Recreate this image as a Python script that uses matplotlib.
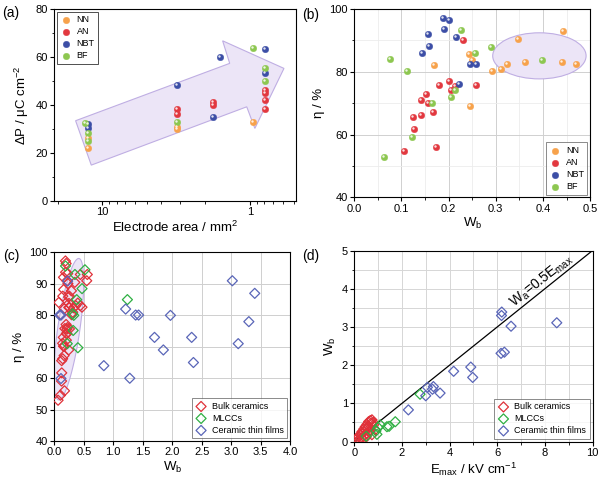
import matplotlib
matplotlib.use('Agg')
import matplotlib.pyplot as plt
import numpy as np
from matplotlib.patches import Polygon, Ellipse
from matplotlib.transforms import offset_copy
from matplotlib.ticker import MultipleLocator, FixedLocator, NullFormatter

plt.rcParams['font.family'] = ['Liberation Sans', 'DejaVu Sans']
plt.rcParams['mathtext.default'] = 'regular'

# (a) delta P vs electrode area
a_nn_x = [12.6, 12.6, 3.14, 3.14, 0.95]
a_nn_y = [26.5, 22.1, 31.0, 30.1, 33.0]
a_an_x = [3.14, 3.14, 1.77, 1.77, 0.785, 0.785, 0.785, 0.785]
a_an_y = [38.3, 36.1, 41.4, 40.1, 46.5, 45.1, 42.1, 38.2]
a_nbt_x = [12.6, 12.6, 3.14, 1.77, 1.6, 0.785, 0.785]
a_nbt_y = [32.2, 30.3, 48.2, 35.1, 60.1, 63.2, 53.5]
a_bf_x = [13.2, 12.6, 12.6, 3.14, 0.95, 0.785, 0.785]
a_bf_y = [32.6, 28.2, 25.1, 33.0, 63.9, 55.3, 50.1]

# (b) efficiency vs Wb
b_nn_w = [0.243, 0.249, 0.169, 0.245, 0.293, 0.312, 0.323, 0.348, 0.363, 0.442, 0.441, 0.470]
b_nn_eta = [85.8, 83.8, 82.1, 69.0, 80.2, 81.0, 82.4, 90.5, 83.1, 93.0, 83.1, 82.6]
b_an_w = [0.231, 0.200, 0.179, 0.214, 0.204, 0.257, 0.152, 0.141, 0.156, 0.125, 0.142, 0.166, 0.126, 0.105, 0.173]
b_an_eta = [90.1, 77.1, 75.8, 75.6, 74.2, 75.7, 73.0, 71.1, 70.2, 65.6, 66.2, 67.2, 61.7, 54.6, 56.0]
b_nbt_w = [0.189, 0.201, 0.191, 0.215, 0.156, 0.159, 0.144, 0.245, 0.259, 0.223]
b_nbt_eta = [97.3, 96.5, 93.7, 91.0, 92.1, 88.2, 86.1, 82.5, 82.5, 76.1]
b_bf_w = [0.227, 0.256, 0.290, 0.398, 0.076, 0.112, 0.214, 0.204, 0.164, 0.123, 0.064]
b_bf_eta = [93.3, 86.1, 87.8, 83.9, 84.1, 80.2, 74.2, 72.1, 70.1, 59.1, 53.0]

# (c) efficiency vs Wb by device type
c_bulk_w = b_nn_w + b_an_w + b_nbt_w + b_bf_w + [0.56, 0.55]
c_bulk_eta = b_nn_eta + b_an_eta + b_nbt_eta + b_bf_eta + [93.0, 91.0]
c_mlcc_w = [0.19, 0.52, 0.35, 0.47, 0.38, 0.31, 0.33, 0.32, 0.22, 0.40, 1.24]
c_mlcc_eta = [95.7, 94.5, 93.0, 88.5, 85.0, 80.5, 80.0, 75.2, 71.0, 69.7, 85.0]
c_film_w = [0.09, 0.113, 0.113, 0.226, 0.84, 1.21, 1.28, 1.38, 1.43, 1.70, 1.85, 1.97, 2.33, 2.36, 3.02, 3.12, 3.30, 3.40]
c_film_eta = [80.1, 80.1, 59.9, 90.9, 64.0, 82.0, 60.0, 80.1, 80.1, 73.0, 69.0, 80.0, 73.0, 65.0, 91.0, 71.0, 78.0, 87.0]

# (d) Wb vs Emax
d_bulk_e = [0.04, 0.10, 0.18, 0.25, 0.32, 0.40, 0.46, 0.53, 0.60, 0.67, 0.74, 0.81, 0.88, 0.39, 0.53,
            0.67, 0.74, 0.60, 0.46, 0.32, 0.22, 0.55, 0.70, 0.80, 0.64, 0.50, 0.36, 0.28, 0.15]
d_bulk_w = [0.04, 0.08, 0.13, 0.19, 0.26, 0.33, 0.39, 0.45, 0.52, 0.55, 0.57, 0.44, 0.31, 0.13, 0.22,
            0.31, 0.18, 0.40, 0.30, 0.20, 0.05, 0.35, 0.48, 0.50, 0.25, 0.12, 0.05, 0.10, 0.02]
d_mlcc_e = [0.50, 0.91, 0.95, 1.00, 1.09, 1.37, 1.46, 1.72, 2.76]
d_mlcc_w = [0.14, 0.28, 0.19, 0.37, 0.44, 0.39, 0.40, 0.52, 1.24]
d_film_e = [2.27, 3.00, 3.07, 3.28, 3.32, 3.60, 4.17, 4.89, 4.97, 6.16, 6.30, 6.19, 6.18, 6.58, 8.50]
d_film_w = [0.83, 1.20, 1.42, 1.37, 1.44, 1.27, 1.84, 1.95, 1.68, 2.31, 2.34, 3.39, 3.30, 3.02, 3.11]

# arrow outline for (a)
arrow_x = [15.2, 1.37, 1.53, 0.587, 0.925, 1.05, 11.9]
arrow_y = [33.5, 57.4, 66.8, 55.3, 30.3, 39.3, 15.0]

sphere_colors = {'NN': '#f7a24b', 'AN': '#e2383f', 'NBT': '#3c4ea6', 'BF': '#8dc750'}
red_d, green_d, blue_d = '#e0323a', '#2fb043', '#5a66b8'
shade_face = '#ece5f7'
shade_edge = '#bfaee3'

fig = plt.figure(figsize=(6, 4.8), dpi=100)
ax_a = fig.add_axes([0.090, 0.581, 0.403, 0.400])
ax_b = fig.add_axes([0.5905, 0.589, 0.393, 0.392])
ax_c = fig.add_axes([0.0905, 0.081, 0.393, 0.393])
ax_d = fig.add_axes([0.5905, 0.080, 0.397, 0.398])


def spheres(ax, x, y, color, label):
    ax.scatter(x, y, s=22, c=color, edgecolors=color, linewidths=0.3, label=label, zorder=3)
    tr = offset_copy(ax.transData, fig=fig, x=-1.0, y=1.0, units='dots')
    ax.scatter(x, y, s=3, c='white', alpha=0.85, linewidths=0, transform=tr, zorder=4)


def diamonds(ax, x, y, color, label):
    ax.scatter(x, y, s=26, marker='D', facecolors='none', edgecolors=color, linewidths=0.9,
               label=label, zorder=3)


def style(ax):
    ax.tick_params(axis='both', which='major', direction='out', length=3, labelsize=8,
                   width=0.8, pad=1.5)
    ax.tick_params(axis='both', which='minor', direction='out', length=1.8, width=0.6)
    for s in ax.spines.values():
        s.set_linewidth(0.8)


def small_legend(ax, loc, edge):
    leg = ax.legend(loc=loc, fontsize=6.5, frameon=True, fancybox=False, edgecolor=edge,
                    handletextpad=0.6, borderpad=0.4, labelspacing=0.33, handlelength=1.2,
                    borderaxespad=0.3, scatterpoints=1)
    leg.get_frame().set_linewidth(0.6)


# ---- (a)
ax_a.add_patch(Polygon(list(zip(arrow_x, arrow_y)), closed=True, facecolor=shade_face,
                       edgecolor=shade_edge, linewidth=0.8, zorder=1))
spheres(ax_a, a_nn_x, a_nn_y, sphere_colors['NN'], 'NN')
spheres(ax_a, a_an_x, a_an_y, sphere_colors['AN'], 'AN')
spheres(ax_a, a_nbt_x, a_nbt_y, sphere_colors['NBT'], 'NBT')
spheres(ax_a, a_bf_x, a_bf_y, sphere_colors['BF'], 'BF')
ax_a.set_xscale('log')
ax_a.set_xlim(21.3, 0.488)
ax_a.set_ylim(0, 80)
ax_a.xaxis.set_major_locator(FixedLocator([10, 1]))
ax_a.set_xticklabels(['10', '1'])
ax_a.xaxis.set_minor_formatter(NullFormatter())
ax_a.yaxis.set_major_locator(MultipleLocator(20))
ax_a.yaxis.set_minor_locator(MultipleLocator(10))
ax_a.set_xlabel('Electrode area / mm$^2$', fontsize=9.5, labelpad=2)
ax_a.set_ylabel('ΔP / μC cm$^{-2}$', fontsize=9.5, labelpad=3)
style(ax_a)
small_legend(ax_a, 'upper left', 'black')

# ---- (b)
ax_b.add_patch(Ellipse((0.3925, 85.1), 0.198, 14.7, facecolor=shade_face, edgecolor=shade_edge,
                       linewidth=0.8, zorder=1))
spheres(ax_b, b_nn_w, b_nn_eta, sphere_colors['NN'], 'NN')
spheres(ax_b, b_an_w, b_an_eta, sphere_colors['AN'], 'AN')
spheres(ax_b, b_nbt_w, b_nbt_eta, sphere_colors['NBT'], 'NBT')
spheres(ax_b, b_bf_w, b_bf_eta, sphere_colors['BF'], 'BF')
ax_b.set_xlim(0, 0.5)
ax_b.set_ylim(40, 100)
ax_b.xaxis.set_major_locator(MultipleLocator(0.1))
ax_b.xaxis.set_minor_locator(MultipleLocator(0.05))
ax_b.yaxis.set_major_locator(MultipleLocator(20))
ax_b.yaxis.set_minor_locator(MultipleLocator(10))
ax_b.grid(True, which='major', color='#d0d0d0', linewidth=0.7, zorder=0)
ax_b.grid(True, which='minor', color='#ececec', linewidth=0.6, zorder=0)
ax_b.set_axisbelow(True)
ax_b.set_xlabel('W$_b$', fontsize=9.5, labelpad=2)
ax_b.set_ylabel('η / %', fontsize=9.5, labelpad=3)
style(ax_b)
small_legend(ax_b, 'lower right', '#555555')

# ---- (c)
t = np.linspace(0, 2 * np.pi, 120)
ell_x = 0.245 + 0.19 * np.cos(t) + 0.0075 * (22.5 * np.sin(t))
ell_y = 75.6 + 22.5 * np.sin(t)
ax_c.add_patch(Polygon(np.column_stack([ell_x, ell_y]), closed=True, facecolor=shade_face,
                       edgecolor=shade_edge, linewidth=0.8, zorder=1))
diamonds(ax_c, c_bulk_w, c_bulk_eta, red_d, 'Bulk ceramics')
diamonds(ax_c, c_mlcc_w, c_mlcc_eta, green_d, 'MLCCs')
diamonds(ax_c, c_film_w, c_film_eta, blue_d, 'Ceramic thin films')
ax_c.set_xlim(0, 4)
ax_c.set_ylim(40, 100)
ax_c.xaxis.set_major_locator(MultipleLocator(0.5))
ax_c.yaxis.set_major_locator(MultipleLocator(10))
ax_c.grid(True, which='major', color='#cfcfcf', linewidth=0.7, zorder=0)
ax_c.set_axisbelow(True)
ax_c.set_xlabel('W$_b$', fontsize=9.5, labelpad=2)
ax_c.set_ylabel('η / %', fontsize=9.5, labelpad=3)
style(ax_c)
small_legend(ax_c, 'lower right', '#555555')

# ---- (d)
ax_d.plot([0, 10], [0, 5], color='black', linewidth=0.9, zorder=2)
diamonds(ax_d, d_bulk_e, d_bulk_w, red_d, 'Bulk ceramics')
diamonds(ax_d, d_mlcc_e, d_mlcc_w, green_d, 'MLCCs')
diamonds(ax_d, d_film_e, d_film_w, blue_d, 'Ceramic thin films')
ax_d.set_xlim(0, 10)
ax_d.set_ylim(0, 5)
ax_d.xaxis.set_major_locator(MultipleLocator(2))
ax_d.xaxis.set_minor_locator(MultipleLocator(1))
ax_d.yaxis.set_major_locator(MultipleLocator(1))
ax_d.yaxis.set_minor_locator(MultipleLocator(0.5))
ax_d.grid(True, which='both', color='#d6d6d6', linewidth=0.7, zorder=0)
ax_d.set_axisbelow(True)
ax_d.text(7.85, 4.22, 'W$_a$=0.5E$_{max}$', fontsize=10, rotation=38.7,
          rotation_mode='anchor', ha='center', va='center')
ax_d.set_xlabel('E$_{max}$ / kV cm$^{-1}$', fontsize=9.5, labelpad=2)
ax_d.set_ylabel('W$_b$', fontsize=9.5, labelpad=3)
style(ax_d)
small_legend(ax_d, 'lower right', '#555555')

# panel letters
fig.text(0.003, 0.972, '(a)', fontsize=10, va='center')
fig.text(0.503, 0.969, '(b)', fontsize=10, va='center')
fig.text(0.005, 0.466, '(c)', fontsize=10, va='center')
fig.text(0.503, 0.467, '(d)', fontsize=10, va='center')

fig.savefig('out.png', dpi=100)
